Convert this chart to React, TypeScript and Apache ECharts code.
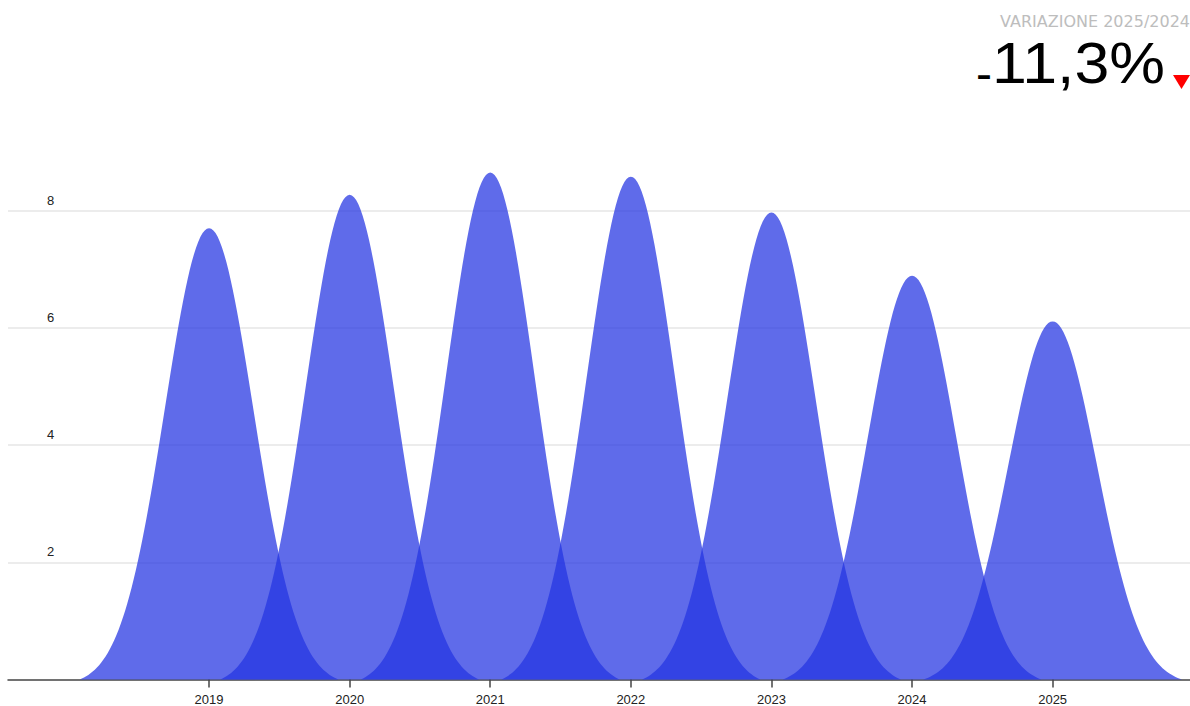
import React, { useEffect, useRef } from "react";
import * as echarts from "echarts";

// Annual values, one bell per year
const YEARS: number[] = [2019, 2020, 2021, 2022, 2023, 2024, 2025];
const VALUES: number[] = [7.7, 8.27, 8.65, 8.58, 7.97, 6.89, 6.11];

// Y axis ticks
const Y_MIN = 0;
const Y_MAX = 10;
const Y_STEP = 2;

const CHANGE_TITLE = "VARIAZIONE 2025/2024";

// Bell glyph geometry, in years along the x axis
const BELL_HALF_WIDTH = 0.92;
const BELL_SIGMA = 0.314;
const BELL_STEPS = 60;

const FILL = "rgba(36, 52, 226, 0.73)";
const FONT = "Liberation Sans, Arial, sans-serif";

function changeText(): { sign: string; body: string } {
  const last = VALUES[VALUES.length - 1];
  const prev = VALUES[VALUES.length - 2];
  const pct = (last / prev - 1) * 100;
  return {
    sign: pct < 0 ? "-" : "+",
    body: Math.abs(pct).toFixed(1).replace(".", ",") + "%",
  };
}

export default function App() {
  const ref = useRef<HTMLDivElement>(null);

  useEffect(() => {
    document.body.style.margin = "0";
    if (!ref.current) return;
    const chart = echarts.init(ref.current, undefined, { renderer: "svg" });
    const change = changeText();

    // Draws one bell centred on the year, as tall as its value
    const renderBell = (params: any, api: any) => {
      const year = api.value(0);
      const v = api.value(1);
      const base = api.coord([year, 0]);
      const top = api.coord([year, v]);
      const pxPerYear = api.size([1, 0])[0];
      const h = base[1] - top[1];
      const two = 2 * BELL_SIGMA * BELL_SIGMA;
      const edge = Math.exp(-(BELL_HALF_WIDTH * BELL_HALF_WIDTH) / two);
      const pts: number[][] = [];
      for (let i = -BELL_STEPS; i <= BELL_STEPS; i++) {
        const u = (BELL_HALF_WIDTH * i) / BELL_STEPS;
        const f = (Math.exp(-(u * u) / two) - edge) / (1 - edge);
        pts.push([base[0] + u * pxPerYear, base[1] - f * h]);
      }
      return {
        type: "polygon",
        shape: { points: pts },
        style: { fill: FILL },
      };
    };

    chart.setOption({
      animation: false,
      grid: { left: 8, right: 0, top: 93.4, bottom: 24.5 },
      xAxis: {
        type: "value",
        min: 2017.57,
        max: 2025.977,
        axisLine: { show: true, lineStyle: { color: "#444", width: 1.5 } },
        axisTick: {
          show: true,
          customValues: YEARS,
          length: 8,
          lineStyle: { color: "#444", width: 1.5 },
        },
        axisLabel: {
          customValues: YEARS,
          formatter: (v: number) => String(v),
          color: "#222",
          fontSize: 13,
          fontFamily: FONT,
          margin: 13.5,
        },
        splitLine: { show: false },
      },
      yAxis: {
        type: "value",
        min: Y_MIN,
        max: Y_MAX,
        interval: Y_STEP,
        axisLine: { show: false },
        axisTick: { show: false },
        axisLabel: {
          inside: true,
          margin: 39,
          showMinLabel: false,
          showMaxLabel: false,
          color: "#222",
          fontSize: 13,
          fontFamily: FONT,
          verticalAlign: "bottom",
          padding: [0, 0, 4, 0],
        },
        splitLine: {
          show: true,
          showMinLine: false,
          showMaxLine: false,
          lineStyle: { color: "#e6e6e6", width: 1.5 },
        },
      },
      series: [
        {
          type: "custom",
          renderItem: renderBell,
          encode: { x: 0, y: 1 },
          data: YEARS.map((y, i) => [y, VALUES[i]]),
          z: 2,
        },
      ],
      graphic: [
        {
          type: "text",
          x: 1190,
          y: 21,
          style: {
            text: CHANGE_TITLE,
            align: "right",
            verticalAlign: "middle",
            fontFamily: "DejaVu Sans, sans-serif",
            fontSize: 16,
            fill: "#bdbdbd",
          },
        },
        {
          type: "text",
          x: 1165,
          y: 63,
          scaleX: 1.08,
          style: {
            text: change.body,
            align: "right",
            verticalAlign: "middle",
            fontFamily: FONT,
            fontSize: 58,
            fill: "#000",
          },
        },
        {
          type: "text",
          x: 992,
          y: 73,
          style: {
            text: change.sign,
            align: "right",
            verticalAlign: "middle",
            fontFamily: FONT,
            fontSize: 48,
            fill: "#000",
          },
        },
        {
          type: "polygon",
          shape: { points: [[1173, 75], [1190, 75], [1181.5, 89]] },
          style: { fill: "#ff0000" },
        },
      ],
    });

    return () => chart.dispose();
  }, []);

  return <div ref={ref} style={{ width: 1190, height: 706 }} />;
}
